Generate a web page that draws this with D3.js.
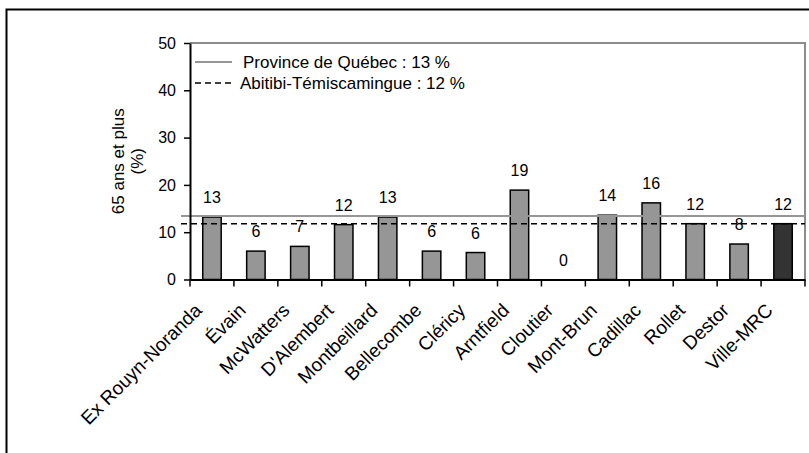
<!DOCTYPE html>
<html>
<head>
<meta charset="utf-8">
<script src="https://cdn.jsdelivr.net/npm/d3@7"></script>
<style>
  html, body { margin: 0; padding: 0; background: #fff; }
  svg { display: block; font-family: "Liberation Sans", Arial, sans-serif; }
</style>
</head>
<body>
<svg id="chart" width="809" height="453"></svg>
<script>
// Share of population aged 65 and over, by municipality
const municipalities = ["Ex Rouyn-Noranda", "Évain", "McWatters", "D'Alembert", "Montbeillard",
  "Bellecombe", "Cléricy", "Arntfield", "Cloutier", "Mont-Brun", "Cadillac", "Rollet", "Destor", "Ville-MRC"];
const seniorsPct = [13.2, 6.0, 7.0, 11.6, 13.2, 6.0, 5.7, 18.9, 0, 13.6, 16.2, 11.8, 7.5, 11.8];
const yTicks = [0, 10, 20, 30, 40, 50];

// Reference levels
const refNames = ["Province de Québec", "Abitibi-Témiscamingue"];
const refValues = [13.4, 11.8];

const svg = d3.select("#chart");
const m = { left: 190, right: 805, top: 43, bottom: 279.5 };

const x = d3.scaleBand().domain(municipalities).range([m.left, m.right]).paddingInner(0.58).paddingOuter(0.29);
const y = d3.scaleLinear().domain([0, 50]).range([m.bottom, m.top]);
const fmt = v => String(Math.round(v));

// Outer frame
svg.append("rect")
  .attr("x", 6.5).attr("y", 9.5).attr("width", 1000).attr("height", 1000)
  .attr("fill", "none").attr("stroke", "#000").attr("stroke-width", 2);

// Plot area border (top and right)
svg.append("path")
  .attr("d", `M${m.left},${m.top}H${m.right}V${m.bottom}`)
  .attr("fill", "none").attr("stroke", "#8c8c8c").attr("stroke-width", 2);

// Bars
svg.append("g").selectAll("rect")
  .data(seniorsPct)
  .join("rect")
  .attr("x", (d, i) => x(municipalities[i]))
  .attr("y", d => y(d))
  .attr("width", x.bandwidth())
  .attr("height", d => y(0) - y(d))
  .attr("fill", (d, i) => i === municipalities.length - 1 ? "#333333" : "#969696")
  .attr("stroke", "#000").attr("stroke-width", 1.5);

// Reference lines
svg.append("line")
  .attr("x1", 181).attr("x2", m.right)
  .attr("y1", y(refValues[0])).attr("y2", y(refValues[0]))
  .attr("stroke", "#969696").attr("stroke-width", 2);
svg.append("line")
  .attr("x1", 181).attr("x2", m.right)
  .attr("y1", y(refValues[1])).attr("y2", y(refValues[1]))
  .attr("stroke", "#000").attr("stroke-width", 1.6).attr("stroke-dasharray", "6,4");

// Value labels
svg.append("g").selectAll("text")
  .data(seniorsPct)
  .join("text")
  .attr("x", (d, i) => x(municipalities[i]) + x.bandwidth() / 2)
  .attr("y", d => y(d) - 14)
  .attr("text-anchor", "middle")
  .attr("font-size", 16)
  .attr("fill", "#000")
  .text(d => fmt(d));

// Y axis
const yAxis = svg.append("g")
  .attr("transform", `translate(${m.left},0)`)
  .call(d3.axisLeft(y).tickValues(yTicks).tickSize(6).tickPadding(8).tickSizeOuter(0));
yAxis.select(".domain").attr("stroke", "#000").attr("stroke-width", 2);
yAxis.selectAll(".tick line").attr("stroke", "#000").attr("stroke-width", 1.5);
yAxis.selectAll(".tick text").attr("font-size", 16).attr("fill", "#000")
  .attr("font-family", "Liberation Sans, Arial, sans-serif");

// X axis
const xAxis = svg.append("g")
  .attr("transform", `translate(0,${m.bottom})`)
  .call(d3.axisBottom(x).tickSize(0).tickFormat(""));
xAxis.select(".domain").attr("stroke", "#000").attr("stroke-width", 2);
// Category separators
svg.append("g").selectAll("line")
  .data(d3.range(municipalities.length + 1))
  .join("line")
  .attr("x1", i => m.left + i * x.step()).attr("x2", i => m.left + i * x.step())
  .attr("y1", m.bottom).attr("y2", m.bottom + 7)
  .attr("stroke", "#000").attr("stroke-width", 1.5);

// Category labels
svg.append("g").selectAll("text")
  .data(municipalities)
  .join("text")
  .attr("transform", d => `translate(${x(d) + x.bandwidth() / 2 - 9},${m.bottom + 32}) rotate(-45)`)
  .attr("text-anchor", "end")
  .attr("font-size", 19)
  .attr("fill", "#000")
  .text(d => d);

// Y axis title
const yTitle = svg.append("text")
  .attr("transform", `translate(0,${(m.top + m.bottom) / 2}) rotate(-90)`)
  .attr("text-anchor", "middle")
  .attr("font-size", 17)
  .attr("fill", "#000");
yTitle.append("tspan").attr("x", 0).attr("y", 124).text("65 ans et plus");
yTitle.append("tspan").attr("x", 0).attr("y", 143).text("(%)");

// Legend
const legend = svg.append("g");
legend.append("line").attr("x1", 195).attr("x2", 232).attr("y1", 62).attr("y2", 62)
  .attr("stroke", "#969696").attr("stroke-width", 2);
legend.append("text").attr("x", 243).attr("y", 68).attr("font-size", 17)
  .text(`${refNames[0]} : ${fmt(refValues[0])} %`);
legend.append("line").attr("x1", 195).attr("x2", 235).attr("y1", 83).attr("y2", 83)
  .attr("stroke", "#000").attr("stroke-width", 1.6).attr("stroke-dasharray", "6,4");
legend.append("text").attr("x", 240).attr("y", 89).attr("font-size", 17)
  .text(`${refNames[1]} : ${fmt(refValues[1])} %`);
</script>
</body>
</html>
